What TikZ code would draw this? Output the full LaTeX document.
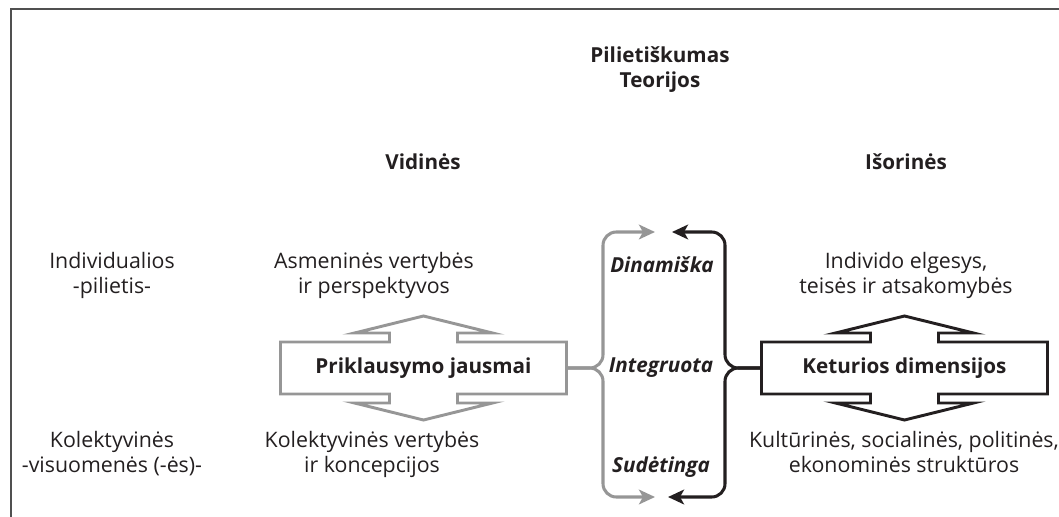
\documentclass[tikz,border=0pt]{standalone}
\usepackage{fontspec}
\setmainfont{Open Sans}
\usetikzlibrary{arrows.meta}
\definecolor{boxgray}{RGB}{150,150,150}
\definecolor{framegray}{RGB}{80,80,80}
\definecolor{ink}{RGB}{35,31,32}

\begin{document}
\begin{tikzpicture}[x=0.75pt,y=-0.75pt]
		\tikzset{txt/.style={align=center, text=ink, anchor=base, inner sep=0pt,
				font=\fontsize{16}{18.75}\selectfont}}
		\tikzset{title/.style={txt, font=\fontsize{15.5}{18.75}\selectfont\bfseries}}
		\tikzset{quality/.style={txt, font=\fontsize{15.5}{18.75}\selectfont\bfseries\itshape}}
		\tikzset{core/.style={title, anchor=center, minimum width=214.5pt, minimum height=39pt}}
		\tikzset{arrowbox/.style={line width=2.2pt, line join=miter}}
		\tikzset{brace/.style={line width=2.3pt, rounded corners=10pt,
				-{Stealth[length=12pt, width=11pt, inset=3pt]}}}
					\useasboundingbox (0,0) rectangle (1059,517);
					\draw[framegray, line width=1.6pt] (11,517) -- (11,9) -- (1059,9);
					%headings (base = last line)
					\node[title] (pil) at (660,88) {Pilietiškumas\\Teorijos};
					\node[title] (vid) at (423,169) {Vidinės};
					\node[title] (isor) at (906,169) {Išorinės};
					\node[txt] (ind) at (112,293) {Individualios\\-pilietis-};
					\node[txt] (kol) at (112,472) {Kolektyvinės\\-visuomenės (-ės)-};
					%texts
					\node[txt] (asm) at (374,293) {Asmeninės vertybės\\ir perspektyvos};
					\node[txt] (kv) at (372,472) {Kolektyvinės vertybės\\ir koncepcijos};
					\node[txt] (elg) at (906,293) {Individo elgesys,\\teisės ir atsakomybės};
					\node[txt] (str) at (904,472) {Kultūrinės, socialinės, politinės,\\ekonominės struktūros};
					\node[quality] (din) at (662,272) {Dinamiška};
					\node[quality] (int) at (661,372) {Integruota};
					\node[quality] (sud) at (661,472) {Sudėtinga};
					%boxes
					\node[core] (pj) at (423.5,368) {Priklausymo jausmai};
					\node[core] (kd) at (904.5,368) {Keturios dimensijos};
					\foreach \b/\c in {pj/boxgray, kd/ink}
						\draw[arrowbox, \c, shift={(\b.center)}] (-143,-26) -- (-34,-26) -- (-34,-35)
							-- (-69,-35) -- (0,-52) -- (69,-35) -- (34,-35) -- (34,-26) -- (143,-26)
							-- (143,26) -- (34,26) -- (34,35) -- (69,35) -- (0,52) -- (-69,35)
							-- (-34,35) -- (-34,26) -- (-143,26) -- cycle;
					%braces
					\coordinate (gtop) at (655,232);
					\coordinate (gbot) at (655,497);
					\coordinate (btop) at (672,232);
					\coordinate (bbot) at (668,497);
					\draw[brace, boxgray] (pj.east) -- (603,368) -- (603,232) -- (gtop);
					\draw[brace, boxgray] (pj.east) -- (603,368) -- (603,497) -- (gbot);
					\draw[brace, ink] (kd.west) -- (725,368) -- (725,232) -- (btop);
					\draw[brace, ink] (kd.west) -- (725,368) -- (725,497) -- (bbot);
					
\end{tikzpicture}
\end{document}
